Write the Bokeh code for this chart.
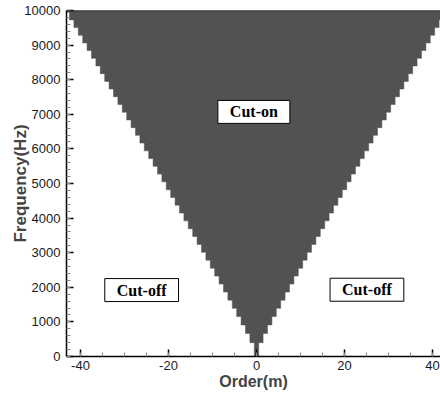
from bokeh.plotting import figure
from bokeh.models import (ColumnDataSource, Label, SingleIntervalTicker, Range1d,
                          PrintfTickFormatter, Span)
from bokeh.embed import file_html
from bokeh.resources import INLINE

# Cut-on frequency (Hz) of each circumferential order |m| (read from the staircase)
orders = list(range(0, 44))
cut_on_hz = [0, 400, 663, 912, 1154, 1392, 1628, 1861, 2093, 2324,
             2554, 2783, 3012, 3240, 3467, 3693, 3920, 4146, 4371, 4597,
             4822, 5047, 5271, 5496, 5719, 5943, 6167, 6391, 6614, 6837,
             7060, 7283, 7506, 7729, 7951, 8174, 8396, 8618, 8841, 9063,
             9285, 9507, 9729, 9950]
f_max = 10000

region_labels = ["Cut-on", "Cut-off", "Cut-off"]
region_m = [-0.6, -26.1, 25.1]
region_f = [7070, 1920, 1930]

# mirror to negative orders, ascending order
pairs = sorted({(m, f) for m, f in zip(orders, cut_on_hz)} |
               {(-m, f) for m, f in zip(orders, cut_on_hz)})
ms = [m for m, _ in pairs]
fs = [f for _, f in pairs]

# staircase outline of the cut-on region
xs = [ms[0] - 0.5]
ys = [f_max]
for m, f in zip(ms, fs):
    xs += [m - 0.5, m + 0.5]
    ys += [f, f]
xs.append(ms[-1] + 0.5)
ys.append(f_max)
src = ColumnDataSource(dict(x=xs, y=ys))

p = figure(width=440, height=394, output_backend="svg", toolbar_location=None,
           x_range=Range1d(-43.18, 41.82), y_range=Range1d(0, 10000),
           min_border_left=66, min_border_right=0, min_border_top=10,
           min_border_bottom=38, background_fill_color="white",
           border_fill_color="white")
p.outline_line_color = None
p.grid.visible = False

p.patch(x="x", y="y", source=src, fill_color="#525252", line_color="#525252",
        line_width=0.5)

p.add_layout(Span(location=f_max, dimension="width", line_color="#222222",
                  line_width=1.5))

for ax in (p.xaxis[0], p.yaxis[0]):
    ax.axis_line_color = "black"
    ax.axis_line_width = 1.5
    ax.major_tick_in = 7
    ax.major_tick_out = 0
    ax.minor_tick_in = 4
    ax.minor_tick_out = 0
    ax.major_tick_line_color = "black"
    ax.major_tick_line_width = 1.5
    ax.minor_tick_line_color = "#888888"
    ax.major_label_text_font = "Liberation Sans"
    ax.major_label_text_font_size = "13px"
    ax.major_label_text_color = "#1a1a1a"
    ax.formatter = PrintfTickFormatter(format="%d")

p.xaxis[0].ticker = SingleIntervalTicker(interval=20, num_minor_ticks=4)
p.yaxis[0].ticker = SingleIntervalTicker(interval=1000, num_minor_ticks=5)
p.xaxis[0].major_label_standoff = 4
p.yaxis[0].major_label_standoff = 6

p.xaxis[0].axis_label = "Order(m)"
p.xaxis[0].axis_label_text_font = "Liberation Sans"
p.xaxis[0].axis_label_text_font_style = "bold"
p.xaxis[0].axis_label_text_font_size = "16px"
p.xaxis[0].axis_label_standoff = 0

p.yaxis[0].axis_label = "Frequency(Hz)"
p.yaxis[0].axis_label_text_font = "Liberation Sans"
p.yaxis[0].axis_label_text_font_style = "bold"
p.yaxis[0].axis_label_text_font_size = "17px"
p.yaxis[0].axis_label_standoff = -9

for t, m, f in zip(region_labels, region_m, region_f):
    p.add_layout(Label(x=m, y=f, text=t, text_font="Liberation Serif",
                       text_font_style="bold", text_font_size="16px",
                       text_align="center", text_baseline="middle",
                       text_color="black", background_fill_color="white",
                       border_line_color="black", border_line_width=1,
                       padding=dict(left=12, right=12, top=3, bottom=3)))

open("out.html", "w").write(file_html(p, INLINE))
